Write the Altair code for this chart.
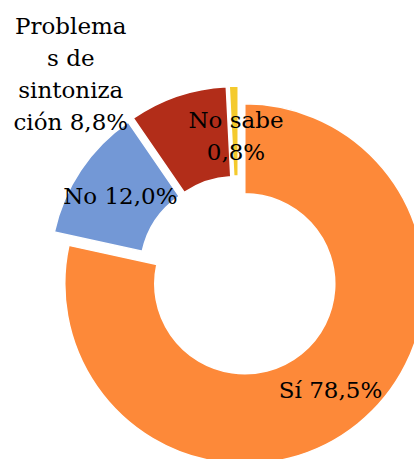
import altair as alt
import pandas as pd

# ---- data ----
categories = ["Sí", "No", "Problemas de sintonización", "No sabe"]
values = [78.5, 12.0, 8.8, 0.8]
labels = ["Sí 78,5%", "No 12,0%", "Problema\ns de\nsintoniza\nción 8,8%", "No sabe\n0,8%"]
colors = ["#FD8939", "#7398D6", "#B22D19", "#F4CA2D"]

df = pd.DataFrame({
    "category": categories,
    "value": values,
    "label": labels,
    "order": list(range(len(categories))),
})

# ---- layout ----
CX, CY = 238.5, 276
R_IN, R_OUT = 90, 180
EXPLODE = 10
LINE_H = 32
# label radius (px) and angular shift (deg) relative to slice mid-angle
label_r = {"Sí": 147, "No": 142, "Problemas de sintonización": 262, "No sabe": 139}
label_shift = {"Sí": 0.1, "No": -0.2, "Problemas de sintonización": -21.1, "No sabe": 0.4}


def case_expr(d):
    parts = ""
    for k, v in d.items():
        parts += f"datum.category == '{k}' ? {v} : "
    return parts + "0"


base = alt.Chart(df).transform_window(
    cum="sum(value)", sort=[alt.SortField("order")], frame=[None, 0]
).transform_joinaggregate(
    total="sum(value)"
).transform_calculate(
    t1="datum.cum / datum.total * 2 * PI",
    t0="(datum.cum - datum.value) / datum.total * 2 * PI",
    nlines="length(split(datum.label, '\\n'))",
).transform_calculate(
    mid="(datum.t0 + datum.t1) / 2",
).transform_calculate(
    px=f"{CX} + {EXPLODE} * sin(datum.mid)",
    py=f"{CY} - {EXPLODE} * cos(datum.mid)",
    la=f"datum.mid + ({case_expr(label_shift)}) * PI / 180",
    lr=case_expr(label_r),
).transform_calculate(
    lx=f"{CX} + datum.lr * sin(datum.la)",
    ly=f"{CY} - datum.lr * cos(datum.la) - (datum.nlines - 1) * {LINE_H} / 2",
)

arcs = base.mark_arc(
    innerRadius=R_IN, outerRadius=R_OUT, stroke="white", strokeWidth=1.5
).encode(
    theta=alt.Theta("t0:Q", scale=None),
    theta2="t1:Q",
    x=alt.X("px:Q", scale=None),
    y=alt.Y("py:Q", scale=None),
    color=alt.Color("category:N", scale=alt.Scale(domain=categories, range=colors), legend=None),
)

texts = base.mark_text(
    font="DejaVu Serif", fontSize=23, lineBreak="\n", lineHeight=LINE_H,
    align="center", baseline="middle", color="black"
).encode(
    x=alt.X("lx:Q", scale=None),
    y=alt.Y("ly:Q", scale=None),
    text="label:N",
)

chart = alt.layer(arcs, texts).properties(
    width=414, height=459,
    autosize=alt.AutoSizeParams(type="none"),
    padding=0,
).configure_view(stroke=None)

chart.save("out.html", embed_options={"renderer": "svg", "actions": False})
